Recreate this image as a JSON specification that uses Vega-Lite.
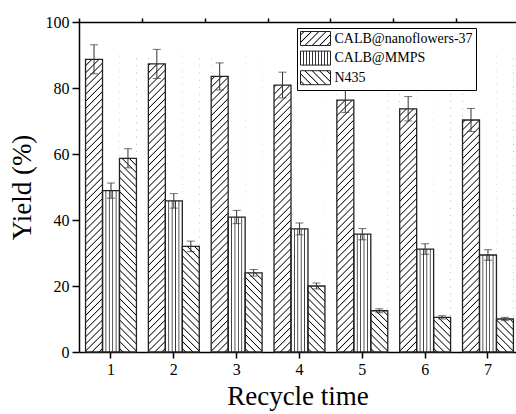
{
  "$schema": "https://vega.github.io/schema/vega-lite/v6.json",
  "width": 437,
  "height": 330,
  "autosize": "none",
  "padding": {"left": 79, "top": 22, "right": 0, "bottom": 62},
  "background": "white",
  "config": {
    "view": {"stroke": null},
    "font": "Liberation Serif",
    "axis": {
      "labelFont": "Liberation Serif",
      "titleFont": "Liberation Serif",
      "labelColor": "#000",
      "titleColor": "#000",
      "titleFontWeight": "normal",
      "domainColor": "#000",
      "tickColor": "#000",
      "domainWidth": 1.5,
      "tickWidth": 1.5,
      "grid": false
    },
    "legend": {
      "labelFont": "Liberation Serif",
      "labelFontSize": 14,
      "labelColor": "#000"
    }
  },
  "data": {
    "values": [
      {"time": 1, "series": "CALB@nanoflowers-37", "yield": 88.7, "err": 4.4},
      {"time": 1, "series": "CALB@MMPS", "yield": 48.9, "err": 2.3},
      {"time": 1, "series": "N435", "yield": 58.7, "err": 2.9},
      {"time": 2, "series": "CALB@nanoflowers-37", "yield": 87.3, "err": 4.4},
      {"time": 2, "series": "CALB@MMPS", "yield": 45.8, "err": 2.2},
      {"time": 2, "series": "N435", "yield": 32.0, "err": 1.6},
      {"time": 3, "series": "CALB@nanoflowers-37", "yield": 83.5, "err": 4.1},
      {"time": 3, "series": "CALB@MMPS", "yield": 40.9, "err": 2.0},
      {"time": 3, "series": "N435", "yield": 24.0, "err": 1.0},
      {"time": 4, "series": "CALB@nanoflowers-37", "yield": 80.9, "err": 3.9},
      {"time": 4, "series": "CALB@MMPS", "yield": 37.3, "err": 1.8},
      {"time": 4, "series": "N435", "yield": 20.0, "err": 0.9},
      {"time": 5, "series": "CALB@nanoflowers-37", "yield": 76.3, "err": 3.7},
      {"time": 5, "series": "CALB@MMPS", "yield": 35.7, "err": 1.7},
      {"time": 5, "series": "N435", "yield": 12.5, "err": 0.6},
      {"time": 6, "series": "CALB@nanoflowers-37", "yield": 73.7, "err": 3.7},
      {"time": 6, "series": "CALB@MMPS", "yield": 31.2, "err": 1.6},
      {"time": 6, "series": "N435", "yield": 10.5, "err": 0.5},
      {"time": 7, "series": "CALB@nanoflowers-37", "yield": 70.3, "err": 3.5},
      {"time": 7, "series": "CALB@MMPS", "yield": 29.4, "err": 1.6},
      {"time": 7, "series": "N435", "yield": 10.0, "err": 0.5}
    ]
  },
  "resolve": {"axis": {"x": "independent"}},
  "layer": [
    {
      "mark": {"type": "bar", "strokeWidth": 0},
      "encoding": {
        "x": {
          "field": "time", "type": "ordinal",
          "scale": {"paddingInner": 0.19, "paddingOuter": 0.07265, "align": 0.717, "round": false},
          "axis": {"title": "Recycle time", "grid": false, "labelAngle": 0, "tickSize": 6, "labelFontSize": 16, "titleFontSize": 27, "labelPadding": 3, "titlePadding": 6}
        },
        "xOffset": {
          "field": "series", "type": "nominal",
          "scale": {"domain": ["CALB@nanoflowers-37", "CALB@MMPS", "N435"], "paddingInner": 0, "paddingOuter": 0}
        },
        "y": {
          "datum": 90, "type": "quantitative",
          "scale": {"domain": [0, 100], "nice": false},
          "axis": {
            "title": "Yield (%)",
            "grid": false,
            "values": [0, 10, 20, 30, 40, 50, 60, 70, 80, 90, 100],
            "labelExpr": "datum.value % 20 === 0 ? datum.label : ''",
            "tickSize": {"condition": {"test": "datum.value % 20 !== 0", "value": 4}, "value": 7},
            "labelFontSize": 16,
            "titleFontSize": 27,
            "labelPadding": 3,
            "titlePadding": 9
          }
        },
        "y2": {"datum": 0},
        "fill": {
          "condition": [
            {"test": "datum.series === 'CALB@nanoflowers-37'", "value": {"gradient": "linear", "x1": 0, "y1": 0, "x2": 0.0603, "y2": 1.0538, "stops": [
              {"offset":0.0079,"color":"#fff"},{"offset":0.0114,"color":"#000"},{"offset":0.0149,"color":"#fff"},
              {"offset":0.0306,"color":"#fff"},{"offset":0.0341,"color":"#000"},{"offset":0.0376,"color":"#fff"},
              {"offset":0.0533,"color":"#fff"},{"offset":0.0568,"color":"#000"},{"offset":0.0603,"color":"#fff"},
              {"offset":0.0760,"color":"#fff"},{"offset":0.0795,"color":"#000"},{"offset":0.0830,"color":"#fff"},
              {"offset":0.0988,"color":"#fff"},{"offset":0.1023,"color":"#000"},{"offset":0.1058,"color":"#fff"},
              {"offset":0.1215,"color":"#fff"},{"offset":0.1250,"color":"#000"},{"offset":0.1285,"color":"#fff"},
              {"offset":0.1442,"color":"#fff"},{"offset":0.1477,"color":"#000"},{"offset":0.1512,"color":"#fff"},
              {"offset":0.1670,"color":"#fff"},{"offset":0.1705,"color":"#000"},{"offset":0.1740,"color":"#fff"},
              {"offset":0.1897,"color":"#fff"},{"offset":0.1932,"color":"#000"},{"offset":0.1967,"color":"#fff"},
              {"offset":0.2124,"color":"#fff"},{"offset":0.2159,"color":"#000"},{"offset":0.2194,"color":"#fff"},
              {"offset":0.2351,"color":"#fff"},{"offset":0.2386,"color":"#000"},{"offset":0.2421,"color":"#fff"},
              {"offset":0.2579,"color":"#fff"},{"offset":0.2614,"color":"#000"},{"offset":0.2649,"color":"#fff"},
              {"offset":0.2806,"color":"#fff"},{"offset":0.2841,"color":"#000"},{"offset":0.2876,"color":"#fff"},
              {"offset":0.3033,"color":"#fff"},{"offset":0.3068,"color":"#000"},{"offset":0.3103,"color":"#fff"},
              {"offset":0.3260,"color":"#fff"},{"offset":0.3295,"color":"#000"},{"offset":0.3330,"color":"#fff"},
              {"offset":0.3488,"color":"#fff"},{"offset":0.3523,"color":"#000"},{"offset":0.3558,"color":"#fff"},
              {"offset":0.3715,"color":"#fff"},{"offset":0.3750,"color":"#000"},{"offset":0.3785,"color":"#fff"},
              {"offset":0.3942,"color":"#fff"},{"offset":0.3977,"color":"#000"},{"offset":0.4012,"color":"#fff"},
              {"offset":0.4170,"color":"#fff"},{"offset":0.4205,"color":"#000"},{"offset":0.4240,"color":"#fff"},
              {"offset":0.4397,"color":"#fff"},{"offset":0.4432,"color":"#000"},{"offset":0.4467,"color":"#fff"},
              {"offset":0.4624,"color":"#fff"},{"offset":0.4659,"color":"#000"},{"offset":0.4694,"color":"#fff"},
              {"offset":0.4851,"color":"#fff"},{"offset":0.4886,"color":"#000"},{"offset":0.4921,"color":"#fff"},
              {"offset":0.5079,"color":"#fff"},{"offset":0.5114,"color":"#000"},{"offset":0.5149,"color":"#fff"},
              {"offset":0.5306,"color":"#fff"},{"offset":0.5341,"color":"#000"},{"offset":0.5376,"color":"#fff"},
              {"offset":0.5533,"color":"#fff"},{"offset":0.5568,"color":"#000"},{"offset":0.5603,"color":"#fff"},
              {"offset":0.5760,"color":"#fff"},{"offset":0.5795,"color":"#000"},{"offset":0.5830,"color":"#fff"},
              {"offset":0.5988,"color":"#fff"},{"offset":0.6023,"color":"#000"},{"offset":0.6058,"color":"#fff"},
              {"offset":0.6215,"color":"#fff"},{"offset":0.6250,"color":"#000"},{"offset":0.6285,"color":"#fff"},
              {"offset":0.6442,"color":"#fff"},{"offset":0.6477,"color":"#000"},{"offset":0.6512,"color":"#fff"},
              {"offset":0.6670,"color":"#fff"},{"offset":0.6705,"color":"#000"},{"offset":0.6740,"color":"#fff"},
              {"offset":0.6897,"color":"#fff"},{"offset":0.6932,"color":"#000"},{"offset":0.6967,"color":"#fff"},
              {"offset":0.7124,"color":"#fff"},{"offset":0.7159,"color":"#000"},{"offset":0.7194,"color":"#fff"},
              {"offset":0.7351,"color":"#fff"},{"offset":0.7386,"color":"#000"},{"offset":0.7421,"color":"#fff"},
              {"offset":0.7579,"color":"#fff"},{"offset":0.7614,"color":"#000"},{"offset":0.7649,"color":"#fff"},
              {"offset":0.7806,"color":"#fff"},{"offset":0.7841,"color":"#000"},{"offset":0.7876,"color":"#fff"},
              {"offset":0.8033,"color":"#fff"},{"offset":0.8068,"color":"#000"},{"offset":0.8103,"color":"#fff"},
              {"offset":0.8260,"color":"#fff"},{"offset":0.8295,"color":"#000"},{"offset":0.8330,"color":"#fff"},
              {"offset":0.8488,"color":"#fff"},{"offset":0.8523,"color":"#000"},{"offset":0.8558,"color":"#fff"},
              {"offset":0.8715,"color":"#fff"},{"offset":0.8750,"color":"#000"},{"offset":0.8785,"color":"#fff"},
              {"offset":0.8942,"color":"#fff"},{"offset":0.8977,"color":"#000"},{"offset":0.9012,"color":"#fff"},
              {"offset":0.9170,"color":"#fff"},{"offset":0.9205,"color":"#000"},{"offset":0.9240,"color":"#fff"},
              {"offset":0.9397,"color":"#fff"},{"offset":0.9432,"color":"#000"},{"offset":0.9467,"color":"#fff"},
              {"offset":0.9624,"color":"#fff"},{"offset":0.9659,"color":"#000"},{"offset":0.9694,"color":"#fff"},
              {"offset":0.9851,"color":"#fff"},{"offset":0.9886,"color":"#000"},{"offset":0.9921,"color":"#fff"}
            ]}},
            {"test": "datum.series === 'CALB@MMPS'", "value": {"gradient": "linear", "x1": 0, "y1": 0, "x2": 1, "y2": 0, "stops": [
              {"offset":0.15,"color":"#fff"},{"offset":0.2,"color":"#333"},{"offset":0.25,"color":"#fff"},
              {"offset":0.35,"color":"#fff"},{"offset":0.4,"color":"#333"},{"offset":0.45,"color":"#fff"},
              {"offset":0.55,"color":"#fff"},{"offset":0.6,"color":"#333"},{"offset":0.65,"color":"#fff"},
              {"offset":0.75,"color":"#fff"},{"offset":0.8,"color":"#333"},{"offset":0.85,"color":"#fff"}
            ]}}
          ],
          "value": {"gradient": "linear", "x1": 0, "y1": 1, "x2": 0.0603, "y2": -0.0538, "stops": [
              {"offset":0.0079,"color":"#fff"},{"offset":0.0114,"color":"#000"},{"offset":0.0149,"color":"#fff"},
              {"offset":0.0306,"color":"#fff"},{"offset":0.0341,"color":"#000"},{"offset":0.0376,"color":"#fff"},
              {"offset":0.0533,"color":"#fff"},{"offset":0.0568,"color":"#000"},{"offset":0.0603,"color":"#fff"},
              {"offset":0.0760,"color":"#fff"},{"offset":0.0795,"color":"#000"},{"offset":0.0830,"color":"#fff"},
              {"offset":0.0988,"color":"#fff"},{"offset":0.1023,"color":"#000"},{"offset":0.1058,"color":"#fff"},
              {"offset":0.1215,"color":"#fff"},{"offset":0.1250,"color":"#000"},{"offset":0.1285,"color":"#fff"},
              {"offset":0.1442,"color":"#fff"},{"offset":0.1477,"color":"#000"},{"offset":0.1512,"color":"#fff"},
              {"offset":0.1670,"color":"#fff"},{"offset":0.1705,"color":"#000"},{"offset":0.1740,"color":"#fff"},
              {"offset":0.1897,"color":"#fff"},{"offset":0.1932,"color":"#000"},{"offset":0.1967,"color":"#fff"},
              {"offset":0.2124,"color":"#fff"},{"offset":0.2159,"color":"#000"},{"offset":0.2194,"color":"#fff"},
              {"offset":0.2351,"color":"#fff"},{"offset":0.2386,"color":"#000"},{"offset":0.2421,"color":"#fff"},
              {"offset":0.2579,"color":"#fff"},{"offset":0.2614,"color":"#000"},{"offset":0.2649,"color":"#fff"},
              {"offset":0.2806,"color":"#fff"},{"offset":0.2841,"color":"#000"},{"offset":0.2876,"color":"#fff"},
              {"offset":0.3033,"color":"#fff"},{"offset":0.3068,"color":"#000"},{"offset":0.3103,"color":"#fff"},
              {"offset":0.3260,"color":"#fff"},{"offset":0.3295,"color":"#000"},{"offset":0.3330,"color":"#fff"},
              {"offset":0.3488,"color":"#fff"},{"offset":0.3523,"color":"#000"},{"offset":0.3558,"color":"#fff"},
              {"offset":0.3715,"color":"#fff"},{"offset":0.3750,"color":"#000"},{"offset":0.3785,"color":"#fff"},
              {"offset":0.3942,"color":"#fff"},{"offset":0.3977,"color":"#000"},{"offset":0.4012,"color":"#fff"},
              {"offset":0.4170,"color":"#fff"},{"offset":0.4205,"color":"#000"},{"offset":0.4240,"color":"#fff"},
              {"offset":0.4397,"color":"#fff"},{"offset":0.4432,"color":"#000"},{"offset":0.4467,"color":"#fff"},
              {"offset":0.4624,"color":"#fff"},{"offset":0.4659,"color":"#000"},{"offset":0.4694,"color":"#fff"},
              {"offset":0.4851,"color":"#fff"},{"offset":0.4886,"color":"#000"},{"offset":0.4921,"color":"#fff"},
              {"offset":0.5079,"color":"#fff"},{"offset":0.5114,"color":"#000"},{"offset":0.5149,"color":"#fff"},
              {"offset":0.5306,"color":"#fff"},{"offset":0.5341,"color":"#000"},{"offset":0.5376,"color":"#fff"},
              {"offset":0.5533,"color":"#fff"},{"offset":0.5568,"color":"#000"},{"offset":0.5603,"color":"#fff"},
              {"offset":0.5760,"color":"#fff"},{"offset":0.5795,"color":"#000"},{"offset":0.5830,"color":"#fff"},
              {"offset":0.5988,"color":"#fff"},{"offset":0.6023,"color":"#000"},{"offset":0.6058,"color":"#fff"},
              {"offset":0.6215,"color":"#fff"},{"offset":0.6250,"color":"#000"},{"offset":0.6285,"color":"#fff"},
              {"offset":0.6442,"color":"#fff"},{"offset":0.6477,"color":"#000"},{"offset":0.6512,"color":"#fff"},
              {"offset":0.6670,"color":"#fff"},{"offset":0.6705,"color":"#000"},{"offset":0.6740,"color":"#fff"},
              {"offset":0.6897,"color":"#fff"},{"offset":0.6932,"color":"#000"},{"offset":0.6967,"color":"#fff"},
              {"offset":0.7124,"color":"#fff"},{"offset":0.7159,"color":"#000"},{"offset":0.7194,"color":"#fff"},
              {"offset":0.7351,"color":"#fff"},{"offset":0.7386,"color":"#000"},{"offset":0.7421,"color":"#fff"},
              {"offset":0.7579,"color":"#fff"},{"offset":0.7614,"color":"#000"},{"offset":0.7649,"color":"#fff"},
              {"offset":0.7806,"color":"#fff"},{"offset":0.7841,"color":"#000"},{"offset":0.7876,"color":"#fff"},
              {"offset":0.8033,"color":"#fff"},{"offset":0.8068,"color":"#000"},{"offset":0.8103,"color":"#fff"},
              {"offset":0.8260,"color":"#fff"},{"offset":0.8295,"color":"#000"},{"offset":0.8330,"color":"#fff"},
              {"offset":0.8488,"color":"#fff"},{"offset":0.8523,"color":"#000"},{"offset":0.8558,"color":"#fff"},
              {"offset":0.8715,"color":"#fff"},{"offset":0.8750,"color":"#000"},{"offset":0.8785,"color":"#fff"},
              {"offset":0.8942,"color":"#fff"},{"offset":0.8977,"color":"#000"},{"offset":0.9012,"color":"#fff"},
              {"offset":0.9170,"color":"#fff"},{"offset":0.9205,"color":"#000"},{"offset":0.9240,"color":"#fff"},
              {"offset":0.9397,"color":"#fff"},{"offset":0.9432,"color":"#000"},{"offset":0.9467,"color":"#fff"},
              {"offset":0.9624,"color":"#fff"},{"offset":0.9659,"color":"#000"},{"offset":0.9694,"color":"#fff"},
              {"offset":0.9851,"color":"#fff"},{"offset":0.9886,"color":"#000"},{"offset":0.9921,"color":"#fff"}
          ]}
        }
      }
    },
    {
      "mark": {"type": "bar", "color": "white", "strokeWidth": 0},
      "encoding": {
        "x": {"field": "time", "type": "ordinal", "axis": {"bandPosition": -0.1173, "grid": false, "labels": false, "tickSize": 4, "title": null, "domain": false}},
        "xOffset": {"field": "series", "type": "nominal"},
        "y": {"field": "yield", "type": "quantitative", "title": "Yield (%)"},
        "y2": {"datum": 90}
      }
    },
    {
      "mark": {"type": "bar", "fillOpacity": 0, "stroke": "#222", "strokeWidth": 1.3},
      "encoding": {
        "x": {"field": "time", "type": "ordinal", "axis": {"orient": "top", "grid": false, "labels": false, "ticks": false, "title": null, "domainWidth": 1.5}},
        "xOffset": {"field": "series", "type": "nominal"},
        "y": {"field": "yield", "type": "quantitative", "title": "Yield (%)"}
      }
    },
    {
      "mark": {"type": "bar", "opacity": 0},
      "encoding": {
        "x": {"field": "time", "type": "ordinal", "axis": null},
        "xOffset": {"field": "series", "type": "nominal"},
        "y": {"field": "yield", "type": "quantitative", "title": "Yield (%)"},
        "fill": {
          "field": "series", "type": "nominal",
          "scale": {
            "domain": ["CALB@nanoflowers-37", "CALB@MMPS", "N435"],
            "range": [
              {"expr": "{gradient: 'linear', x1: 0, y1: 0, x2: 1.204, y2: 0.562, stops: [{offset: 0.0573, color: '#fff'}, {offset: 0.0833, color: '#000'}, {offset: 0.1093, color: '#fff'}, {offset: 0.224, color: '#fff'}, {offset: 0.25, color: '#000'}, {offset: 0.276, color: '#fff'}, {offset: 0.3907, color: '#fff'}, {offset: 0.4167, color: '#000'}, {offset: 0.4427, color: '#fff'}, {offset: 0.5573, color: '#fff'}, {offset: 0.5833, color: '#000'}, {offset: 0.6093, color: '#fff'}, {offset: 0.724, color: '#fff'}, {offset: 0.75, color: '#000'}, {offset: 0.776, color: '#fff'}, {offset: 0.8907, color: '#fff'}, {offset: 0.9167, color: '#000'}, {offset: 0.9427, color: '#fff'}]}"},
              {"expr": "{gradient: 'linear', x1: 0, y1: 0, x2: 1, y2: 0, stops: [{offset: 0.07, color: '#fff'}, {offset: 0.1, color: '#333'}, {offset: 0.13, color: '#fff'}, {offset: 0.17, color: '#fff'}, {offset: 0.2, color: '#333'}, {offset: 0.23, color: '#fff'}, {offset: 0.27, color: '#fff'}, {offset: 0.3, color: '#333'}, {offset: 0.33, color: '#fff'}, {offset: 0.37, color: '#fff'}, {offset: 0.4, color: '#333'}, {offset: 0.43, color: '#fff'}, {offset: 0.47, color: '#fff'}, {offset: 0.5, color: '#333'}, {offset: 0.53, color: '#fff'}, {offset: 0.57, color: '#fff'}, {offset: 0.6, color: '#333'}, {offset: 0.63, color: '#fff'}, {offset: 0.67, color: '#fff'}, {offset: 0.7, color: '#333'}, {offset: 0.73, color: '#fff'}, {offset: 0.77, color: '#fff'}, {offset: 0.8, color: '#333'}, {offset: 0.83, color: '#fff'}, {offset: 0.87, color: '#fff'}, {offset: 0.9, color: '#333'}, {offset: 0.93, color: '#fff'}]}"},
              {"expr": "{gradient: 'linear', x1: 0, y1: 1, x2: 1.204, y2: 0.438, stops: [{offset: 0.0573, color: '#fff'}, {offset: 0.0833, color: '#000'}, {offset: 0.1093, color: '#fff'}, {offset: 0.224, color: '#fff'}, {offset: 0.25, color: '#000'}, {offset: 0.276, color: '#fff'}, {offset: 0.3907, color: '#fff'}, {offset: 0.4167, color: '#000'}, {offset: 0.4427, color: '#fff'}, {offset: 0.5573, color: '#fff'}, {offset: 0.5833, color: '#000'}, {offset: 0.6093, color: '#fff'}, {offset: 0.724, color: '#fff'}, {offset: 0.75, color: '#000'}, {offset: 0.776, color: '#fff'}, {offset: 0.8907, color: '#fff'}, {offset: 0.9167, color: '#000'}, {offset: 0.9427, color: '#fff'}]}"}
            ]
          },
          "legend": {
            "title": null,
            "orient": "none",
            "legendX": 218,
            "legendY": 6,
            "padding": 3,
            "rowPadding": 0.6,
            "labelOffset": 19.5,
            "labelFont": "Liberation Serif",
            "labelFontSize": 14,
            "labelColor": "#000",
            "strokeColor": "#000",
            "fillColor": "#fff",
            "symbolType": "M-1,-1H3.2857V1H-1Z",
            "symbolSize": 196,
            "symbolOpacity": 1,
            "symbolStrokeWidth": 1,
            "symbolStrokeColor": "#222"
          }
        }
      }
    },
    {
      "mark": {"type": "errorbar", "ticks": {"size": 8, "color": "#333"}, "color": "#333", "thickness": 1},
      "encoding": {
        "x": {"field": "time", "type": "ordinal", "axis": null},
        "xOffset": {"field": "series", "type": "nominal"},
        "y": {"field": "yield", "type": "quantitative", "title": "Yield (%)"},
        "yError": {"field": "err"}
      }
    }
  ]
}
